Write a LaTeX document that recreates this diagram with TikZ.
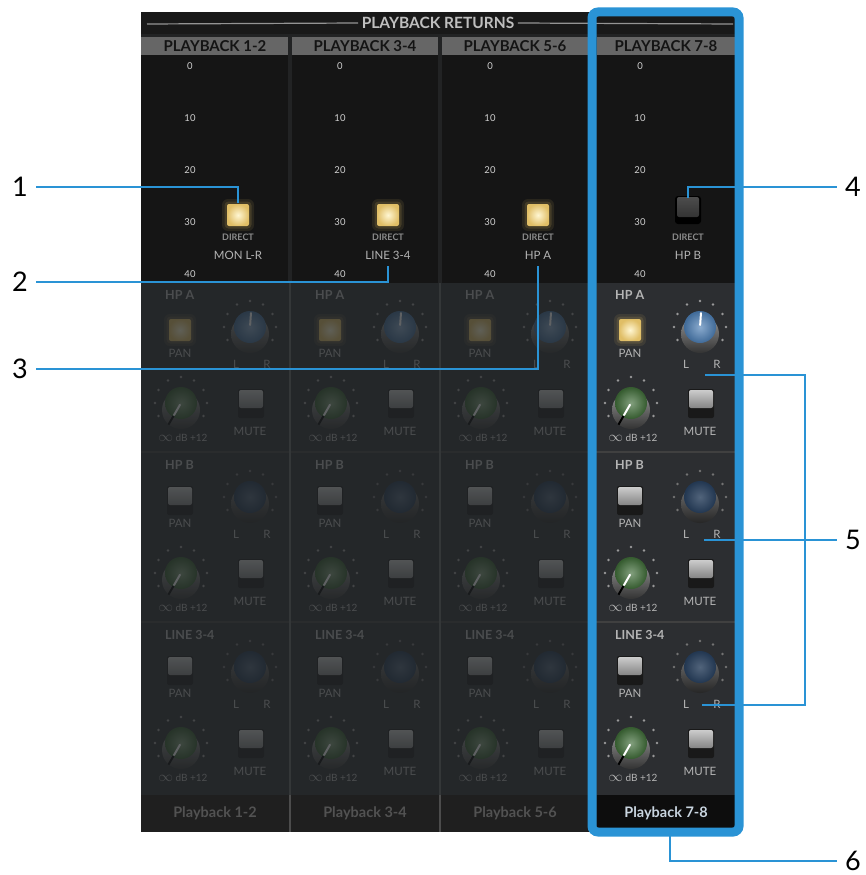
\documentclass[tikz,border=0pt]{standalone}
\usepackage{fontspec}
\setmainfont{Lato}
\usepackage{tikz}
\usetikzlibrary{calc}

\definecolor{callblue}{HTML}{2A93D5}
\definecolor{panelbg}{HTML}{222324}
\definecolor{meterbg}{HTML}{151515}
\definecolor{headgrey}{HTML}{666666}
\definecolor{stripbg}{HTML}{2C2E31}
\definecolor{dimbg}{HTML}{222527}
\definecolor{numgrey}{HTML}{CFCFCF}
\definecolor{labgrey}{HTML}{B4B4B4}
\definecolor{lampin}{HTML}{FFF6D2}
\definecolor{lampout}{HTML}{E0BE66}
\definecolor{panblue}{HTML}{4B7DB3}
\definecolor{pandim}{HTML}{263D5A}
\definecolor{gaingreen}{HTML}{3E6B37}
\definecolor{footblue}{HTML}{C9D5E0}

\tikzset{
  callout/.style={callblue, line width=2.4pt},
  calnum/.style={font=\fontsize{27}{30}\selectfont, inner sep=8pt},
  chhead/.style={font=\bfseries\fontsize{15}{17}\selectfont, text=black!92},
  scalenum/.style={font=\fontsize{9.5}{11}\selectfont, text=numgrey},
  directtext/.style={font=\bfseries\fontsize{9}{10}\selectfont, text=black!45},
  srctext/.style={font=\fontsize{11.5}{13}\selectfont, text=labgrey},
  buslabel/.style={font=\bfseries\fontsize{12.5}{14}\selectfont, text=labgrey, anchor=west, inner sep=0pt},
  ctrltext/.style={font=\fontsize{11.5}{13}\selectfont, text=labgrey, inner sep=0pt},
  foottext/.style={font=\bfseries\fontsize{14.5}{16}\selectfont},
}

% glowing square lamp centred at (#1)
\def\lamp(#1){%
  \fill[lampout, opacity=0.10, rounded corners=6] ($(#1)+(-16,-16)$) rectangle ($(#1)+(16,16)$);
  \fill[lampout, opacity=0.15, rounded corners=4] ($(#1)+(-13.5,-13.5)$) rectangle ($(#1)+(13.5,13.5)$);
  \shade[inner color=lampin, outer color=lampout, rounded corners=2] ($(#1)+(-11,-11)$) rectangle ($(#1)+(11,11)$);}
% raised grey key centred at (#1)
\def\keycap(#1){%
  \fill[black!90, rounded corners=2] ($(#1)+(-13,-14)$) rectangle ($(#1)+(13,15)$);
  \shade[top color=black!20, bottom color=black!48, rounded corners=2] ($(#1)+(-12,-13)$) rectangle ($(#1)+(12,5)$);}
% unlit dark key centred at (#1)
\def\darkkey(#1){%
  \fill[black, rounded corners=3] ($(#1)+(-13,-12)$) rectangle ($(#1)+(13,16)$);
  \shade[top color=black!70, bottom color=black!80, rounded corners=2] ($(#1)+(-11,-11)$) rectangle ($(#1)+(11,9)$);}
% knob: centre, cap colour, pointer angle, pointer colour
\def\knob(#1)[#2][#3][#4]{%
  \foreach \a in {-210,-180,...,30} \fill[black!40] ($(#1)+(\a:26)$) circle (1.4);
  \shade[top color=black!40, bottom color=black!80] ($(#1)+(0,7)$) circle (19);
  \shade[inner color=#2!65!white, outer color=#2!85!black] (#1) circle (16);
  \draw[#4, line width=2pt, line cap=round] ($(#1)+(#3:2)$) -- ($(#1)+(#3:14)$);}
% knob without highlight, for a pan that is off
\def\offknob(#1)[#2][#3][#4]{%
  \foreach \a in {-210,-180,...,30} \fill[black!55] ($(#1)+(\a:26)$) circle (1.3);
  \shade[top color=black!55, bottom color=black!85] ($(#1)+(0,7)$) circle (19);
  \shade[inner color=#2!80!white, outer color=#2!90!black] (#1) circle (16);}

% scale figures of one meter
\newcommand{\scalemarks}[1]{%
  \foreach \v [count=\i from 0] in {0,10,20,30,40}
    \node[scalenum] at (#1, 66+52*\i) {\v};}

% one bus block of a strip: origin, bus name, pan key, pan knob, pan cap colour
\newcommand{\busblock}[5]{%
  \begin{scope}[shift={(#1)}]
    \node[buslabel] at (18,12) {#2};
    #3(33,47)
    \node[ctrltext] at (33,70) {PAN};
    #4(103,44)[#5][-86][white]
    \node[ctrltext] at (89,81) {L};
    \node[ctrltext] at (120,81) {R};
    \knob(34,120)[gaingreen][120][white]
    \draw[black, line width=2pt] ($(34,120)+(120:15)$) -- ($(34,120)+(120:25)$);
    \keycap(104,120)
    \node[ctrltext] at (103,148) {MUTE};
    \node[ctrltext] at (36,155) {\Large$\infty$\normalsize\ dB +12};
  \end{scope}}

\begin{document}
\begin{tikzpicture}[x=1pt, y=-1pt]
  \useasboundingbox (0,0) rectangle (865,875);
  %%%%% PANEL %%%%%
  \fill[panelbg] (141,12) rectangle (736,832);
  \fill[black!90] (141,12) rectangle (736,34);
  \node[font=\bfseries\fontsize{15.5}{17}\selectfont, text=black!25] (title) at (438,23) {PLAYBACK RETURNS};
  \draw[black!42, line width=1.2pt] (147,24) -- (title.west);
  \draw[black!42, line width=1.2pt] (title.east) -- (733,24);

  %%%%% HEADERS AND METERS %%%%%
  \fill[headgrey] (141,37) rectangle (288,55);
  \fill[headgrey] (292,37) rectangle (438,55);
  \fill[headgrey] (442,37) rectangle (588,55);
  \fill[headgrey] (597,37) rectangle (735,55);
  \node[chhead] (h1) at (215,46) {PLAYBACK 1-2};
  \node[chhead] (h2) at (365,46) {PLAYBACK 3-4};
  \node[chhead] (h3) at (515,46) {PLAYBACK 5-6};
  \node[chhead] (h4) at (666,46) {PLAYBACK 7-8};

  \fill[meterbg] (141,55) rectangle (288,283);
  \fill[meterbg] (292,55) rectangle (438,283);
  \fill[meterbg] (442,55) rectangle (588,283);
  \fill[meterbg] (597,55) rectangle (735,283);
  \scalemarks{190}
  \scalemarks{340}
  \scalemarks{490}
  \scalemarks{640}

  \lamp(238,215)
  \lamp(388,215)
  \lamp(538,215)
  \darkkey(688,208)
  \node[directtext] (d1) at (238,237) {DIRECT};
  \node[directtext] (d2) at (388,237) {DIRECT};
  \node[directtext] (d3) at (538,237) {DIRECT};
  \node[directtext] (d4) at (688,237) {DIRECT};
  \node[srctext] (s1) at (238,255) {MON L-R};
  \node[srctext] (s2) at (388,255) {LINE 3-4};
  \node[srctext] (s3) at (538,255) {HP A};
  \node[srctext] (s4) at (688,255) {HP B};

  %%%%% BUS BLOCKS %%%%%
  \fill[stripbg] (141,283) rectangle (736,795);
  \draw[black!75, line width=2pt] (141,452) -- (736,452);
  \draw[black!75, line width=2pt] (141,622) -- (736,622);
  \draw[black!60, line width=1.5pt] (290,283) -- (290,795);
  \draw[black!60, line width=1.5pt] (440,283) -- (440,795);

  \busblock{147,283}{HP A}{\lamp}{\knob}{panblue}
  \busblock{297,283}{HP A}{\lamp}{\knob}{panblue}
  \busblock{447,283}{HP A}{\lamp}{\knob}{panblue}
  \busblock{597,283}{HP A}{\lamp}{\knob}{panblue}
  \busblock{147,453}{HP B}{\keycap}{\offknob}{pandim}
  \busblock{297,453}{HP B}{\keycap}{\offknob}{pandim}
  \busblock{447,453}{HP B}{\keycap}{\offknob}{pandim}
  \busblock{597,453}{HP B}{\keycap}{\offknob}{pandim}
  \busblock{147,623}{LINE 3-4}{\keycap}{\offknob}{pandim}
  \busblock{297,623}{LINE 3-4}{\keycap}{\offknob}{pandim}
  \busblock{447,623}{LINE 3-4}{\keycap}{\offknob}{pandim}
  \busblock{597,623}{LINE 3-4}{\keycap}{\offknob}{pandim}

  % strips 1-6 are greyed out
  \fill[dimbg, opacity=0.72] (141,283) rectangle (590,795);

  %%%%% FOOTER %%%%%
  \fill[black!88] (141,795) rectangle (590,832);
  \draw[black!70, line width=1.5pt] (290,795) -- (290,832);
  \draw[black!70, line width=1.5pt] (440,795) -- (440,832);
  \fill[black!95] (597,795) rectangle (735,828);
  \node[foottext, text=black!68] (f1) at (215,813) {Playback 1-2};
  \node[foottext, text=black!68] (f2) at (365,813) {Playback 3-4};
  \node[foottext, text=black!68] (f3) at (515,813) {Playback 5-6};
  \node[foottext, text=footblue] (f4) at (666,813) {Playback 7-8};

  %%%%% SELECTED STRIP %%%%%
  \draw[callblue, line width=9pt, rounded corners=6] (592,12) rectangle (739,832);

  %%%%% CALLOUTS %%%%%
  \node[calnum] (n1) at (20,187) {1};
  \node[calnum] (n2) at (20,282) {2};
  \node[calnum] (n3) at (20,369) {3};
  \node[calnum] (n4) at (853,187) {4};
  \node[calnum] (n5) at (853,540) {5};
  \node[calnum] (n6) at (853,861) {6};
  \coordinate (t1) at (238,203);
  \coordinate (t2) at (388,266);
  \coordinate (t3) at (538,266);
  \coordinate (t4) at (688,198);
  \coordinate (b1) at (705,375);
  \coordinate (b2) at (704,540);
  \coordinate (b3) at (702,705);
  \coordinate (k1) at (805,375);
  \coordinate (k2) at (805,705);
  \coordinate (t6) at (670,836);
  \draw[callout] (n1) -- (n1 -| t1) -- (t1);
  \draw[callout] (n2) -- (n2 -| t2) -- (t2);
  \draw[callout] (n3) -- (n3 -| t3) -- (t3);
  \draw[callout] (n4) -- (n4 -| t4) -- (t4);
  \draw[callout] (b1) -- (k1) -- (k2) -- (b3);
  \draw[callout] (n5) -- (b2);
  \draw[callout] (t6) -- (t6 |- n6) -- (n6);
\end{tikzpicture}
\end{document}
